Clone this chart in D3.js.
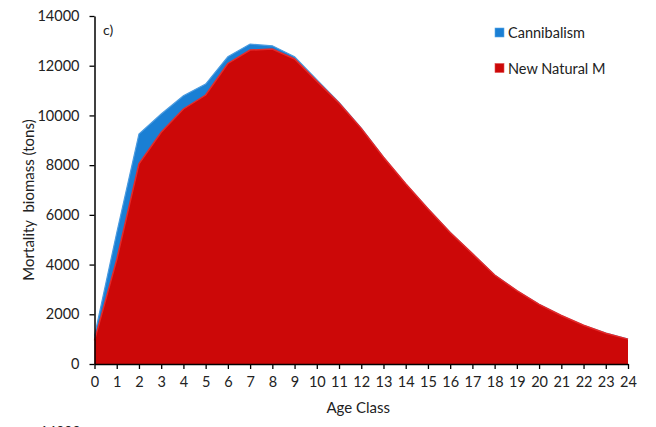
<!DOCTYPE html>
<html>
<head>
<meta charset="utf-8">
<script src="https://cdn.jsdelivr.net/npm/d3@7"></script>
<style>
  body { margin: 0; background: #fff; }
  text { font-family: Lato, "Open Sans", sans-serif; fill: #222; }
</style>
</head>
<body>
<svg id="chart" width="656" height="427"></svg>
<script>
var ages = d3.range(0, 25);
// New Natural M (bottom layer), tons
var naturalM = [950, 4200, 8050, 9320, 10260, 10820, 12090, 12630, 12670, 12270, 11380, 10500, 9480, 8320, 7250, 6250, 5290, 4440, 3580, 2950, 2400, 1950, 1560, 1240, 1000];
// Cannibalism (stacked on top), tons
var cannibalism = [180, 1080, 1200, 740, 530, 440, 270, 240, 130, 90, 60, 20, 10, 0, 0, 0, 0, 0, 0, 0, 0, 0, 0, 0, 0];
var yTicks = [0, 2000, 4000, 6000, 8000, 10000, 12000, 14000];
var seriesNames = ['Cannibalism', 'New Natural M'];
var seriesColors = ['#1a7fd4', '#cc0808'];

var svg = d3.select('#chart');
var margin = { left: 94.5, right: 28, top: 16, bottom: 63 };
var width = 656 - margin.left - margin.right;
var height = 427 - margin.top - margin.bottom;

var x = d3.scaleLinear().domain([0, 24]).range([0, width]);
var y = d3.scaleLinear().domain([0, 14000]).range([height, 0]);

var g = svg.append('g').attr('transform', 'translate(' + margin.left + ',' + margin.top + ')');

var rows = ages.map(function(a, i) {
  return { age: a, natural: naturalM[i], cann: cannibalism[i] };
});
var stack = d3.stack().keys(['natural', 'cann'])(rows);

var area = d3.area()
  .x(function(d) { return x(d.data.age); })
  .y0(function(d) { return y(d[0]); })
  .y1(function(d) { return y(d[1]); });
var topLine = d3.line()
  .x(function(d) { return x(d.data.age); })
  .y(function(d) { return y(d[1]); });

// cannibalism layer first, then red on top of its base
g.append('path').datum(stack[1]).attr('d', area).attr('fill', seriesColors[0]);
g.append('path').datum(stack[1]).attr('d', topLine)
  .attr('fill', 'none').attr('stroke', '#4a9be0').attr('stroke-width', 1.2);
g.append('path').datum(stack[0]).attr('d', area).attr('fill', seriesColors[1]);
g.append('path').datum(stack[0]).attr('d', topLine)
  .attr('fill', 'none').attr('stroke', '#e42a2a').attr('stroke-width', 1.5);

// axes
var yAxis = g.append('g').call(d3.axisLeft(y).tickValues(yTicks).tickSize(5).tickSizeOuter(0).tickPadding(10).tickFormat(d3.format('d')));
var xAxis = g.append('g').attr('transform', 'translate(0,' + height + ')')
  .call(d3.axisBottom(x).tickValues(ages).tickSize(5).tickSizeOuter(0).tickPadding(8).tickFormat(d3.format('d')));
[yAxis, xAxis].forEach(function(ax) {
  ax.select('.domain').attr('stroke', '#000').attr('stroke-width', 1.5);
  ax.selectAll('.tick line').attr('stroke', '#000').attr('stroke-width', 1.3);
  ax.selectAll('.tick text').style('font-size', '14.5px').style('font-family', 'Lato, sans-serif').attr('fill', '#222');
});

// titles
svg.append('text').attr('x', margin.left + width / 2 - 3).attr('y', 413)
  .attr('text-anchor', 'middle').style('font-size', '15px').text('Age Class');
svg.append('text').attr('transform', 'translate(34,' + (margin.top + height / 2 + 10) + ') rotate(-90)')
  .attr('text-anchor', 'middle').style('font-size', '15px').attr('xml:space', 'preserve')
  .text('Mortality  biomass (tons)');
svg.append('text').attr('x', 103).attr('y', 35).style('font-size', '14px').text('c)');

// legend
var legend = svg.append('g').attr('transform', 'translate(495,28)');
seriesNames.forEach(function(name, i) {
  var row = legend.append('g').attr('transform', 'translate(0,' + i * 35.5 + ')');
  row.append('rect').attr('width', 9).attr('height', 9).attr('fill', seriesColors[i])
    .attr('stroke', i ? '#e05050' : '#5aa8e8').attr('stroke-width', 0.6);
  row.append('text').attr('x', 13).attr('y', 10).style('font-size', '14.5px').text(name);
});

// start of next panel's axis label, cut by the page edge
svg.append('text').attr('x', 40).attr('y', 436).style('font-size', '14px').text('14000');
</script>
</body>
</html>
